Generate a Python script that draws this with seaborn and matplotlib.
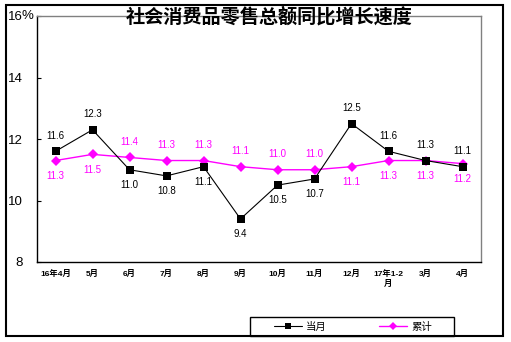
import matplotlib
matplotlib.use("Agg")
import matplotlib.pyplot as plt
from matplotlib.patches import Rectangle
import seaborn as sns
import pandas as pd

months = ["16年4月", "5月", "6月", "7月", "8月", "9月", "10月", "11月", "12月",
          "17年1-2\n月", "3月", "4月"]
monthly = [11.6, 12.3, 11.0, 10.8, 11.1, 9.4, 10.5, 10.7, 12.5, 11.6, 11.3, 11.1]
cumulative = [11.3, 11.5, 11.4, 11.3, 11.3, 11.1, 11.0, 11.0, 11.1, 11.3, 11.3, 11.2]
yticks = [8, 10, 12, 14, 16]
ytick_labels = ["8", "10", "12", "14", "16"]

# label side: +1 above the point, -1 below
monthly_side = [1, 1, -1, -1, -1, -1, -1, -1, 1, 1, 1, 1]
cumulative_side = [-1, -1, 1, 1, 1, 1, 1, 1, -1, -1, -1, -1]

sns.set_style("white")
plt.rcParams["font.family"] = ["Liberation Sans", "Noto Sans CJK SC", "DejaVu Sans"]
plt.rcParams["text.color"] = "black"
plt.rcParams["xtick.color"] = "black"
plt.rcParams["ytick.color"] = "black"
plt.rcParams["xtick.labelcolor"] = "black"
plt.rcParams["ytick.labelcolor"] = "black"

MAGENTA = "#FF00FF"
W, H = 511, 342

fig = plt.figure(figsize=(W / 100, H / 100), dpi=100)
ax = fig.add_axes([37 / W, 1 - 262 / H, 444 / W, 246 / H])

pos = list(range(len(months)))
df = pd.DataFrame({"pos": pos, "当月": monthly, "累计": cumulative})

sns.lineplot(data=df, x="pos", y="累计", ax=ax, color=MAGENTA, lw=1.0,
             marker="D", markersize=5.5, markeredgewidth=0, label="累计", zorder=2)
sns.lineplot(data=df, x="pos", y="当月", ax=ax, color="black", lw=0.8,
             marker="s", markersize=5.5, markeredgewidth=0, label="当月", zorder=3)

for i, (v, s) in enumerate(zip(monthly, monthly_side)):
    ax.annotate(f"{v:.1f}", (i, v), xytext=(0, 11 * s), textcoords="offset points",
                ha="center", va="center", fontsize=7, color="black")
for i, (v, s) in enumerate(zip(cumulative, cumulative_side)):
    ax.annotate(f"{v:.1f}", (i, v), xytext=(0, 11 * s), textcoords="offset points",
                ha="center", va="center", fontsize=7, color=MAGENTA)

ax.set_xlim(-0.5, len(months) - 0.5)
ax.set_ylim(8, 16)
ax.set_yticks(yticks)
ax.set_yticklabels(ytick_labels, fontsize=9.5)
ax.set_xticks(pos)
ax.set_xticklabels(months, fontsize=6, fontweight="bold")
ax.set_xticks([p - 0.5 for p in pos] + [len(months) - 0.5], minor=True)
ax.tick_params(axis="x", which="major", length=0, pad=6)
ax.tick_params(axis="x", which="minor", direction="in", length=3, width=0.8, color="black")
ax.tick_params(axis="y", direction="in", length=3, width=0.8, color="black", pad=10, left=True)
ax.set_xlabel("")
ax.set_ylabel("")

# percent sign after the top tick label
ax.annotate("%", (0, yticks[-1]), xycoords=("axes fraction", "data"),
            xytext=(-10.8, 0), textcoords="offset points", ha="left", va="center",
            fontsize=9.5, color="black", annotation_clip=False)

for side in ("left", "bottom"):
    ax.spines[side].set_color("black")
    ax.spines[side].set_linewidth(1.0)
for side in ("top", "right"):
    ax.spines[side].set_color("#808080")
    ax.spines[side].set_linewidth(1.0)

ax.get_legend().remove()
handles, labels = ax.get_legend_handles_labels()
order = [labels.index("当月"), labels.index("累计")]
fig.legend([handles[k] for k in order], [labels[k] for k in order],
           loc="center", bbox_to_anchor=(353 / W, 1 - 326.5 / H),
           ncol=2, fontsize=7.5, frameon=False, handlelength=2.7,
           handletextpad=0.4, columnspacing=5.0, borderpad=0, borderaxespad=0,
           markerscale=0.7, labelcolor="black")

# legend box
fig.patches.append(Rectangle((250 / W, 1 - 336 / H), 204 / W, 19 / H,
                             transform=fig.transFigure, fill=False,
                             edgecolor="black", linewidth=1.0, zorder=1))

fig.text(269 / W, 1 - 17 / H, "社会消费品零售总额同比增长速度", ha="center", va="center",
         fontsize=13.8, fontweight="bold", color="black",
         family=["Noto Sans CJK SC", "DejaVu Sans"])

# outer chart frame
fig.patches.append(Rectangle((6 / W, 1 - 336 / H), 497 / W, 331 / H,
                             transform=fig.transFigure, fill=False,
                             edgecolor="black", linewidth=1.5, zorder=0))

fig.savefig("out.png", dpi=100)
